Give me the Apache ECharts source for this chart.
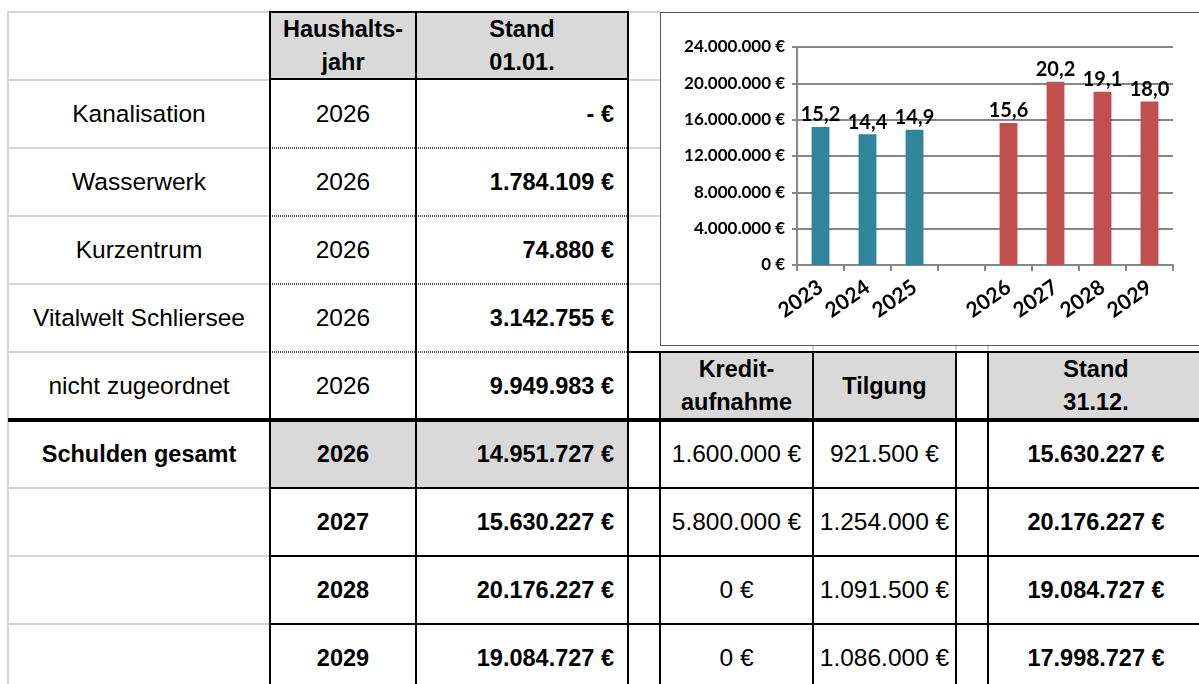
<!DOCTYPE html>
<html>
<head>
<meta charset="utf-8">
<script src="https://cdn.jsdelivr.net/npm/echarts@6/dist/echarts.min.js"></script>
<style>
  body { margin: 0; background: #fff; width: 1199px; height: 684px; overflow: hidden; position: relative;
         font-family: 'Liberation Sans', Arial, sans-serif; color: #000; }
  .cell { position: absolute; display: flex; align-items: center; box-sizing: border-box;
          font-size: 24.5px; white-space: nowrap; }
  .c { justify-content: center; text-align: center; }
  .r { justify-content: flex-end; padding-right: 14px; }
  .b { font-weight: bold; font-size: 23.5px; }
  .shade { background: #d9d9d9; }
  .two { line-height: 33px; }
  .ln { position: absolute; }
  .grey { background: #d4d4d4; }
  .black { background: #000; }
  .dot { background: repeating-linear-gradient(90deg, #555 0 1px, #fff 1px 2px); }
  #chart { position: absolute; left: 660px; top: 12px; width: 560px; height: 334px;
           border: 1px solid #595959; background: #fff; box-sizing: border-box; z-index: 5; }
</style>
</head>
<body>
<div id="chart"></div>
<script>
// Tabelle
const rowLabels = ['Kanalisation', 'Wasserwerk', 'Kurzentrum', 'Vitalwelt Schliersee', 'nicht zugeordnet',
  'Schulden gesamt', '', '', '']
const years = ['2026', '2026', '2026', '2026', '2026', '2026', '2027', '2028', '2029']
const standStart = ['- €', '1.784.109 €', '74.880 €', '3.142.755 €', '9.949.983 €',
  '14.951.727 €', '15.630.227 €', '20.176.227 €', '19.084.727 €']
const kredit = ['1.600.000 €', '5.800.000 €', '0 €', '0 €']
const tilgung = ['921.500 €', '1.254.000 €', '1.091.500 €', '1.086.000 €']
const standEnd = ['15.630.227 €', '20.176.227 €', '19.084.727 €', '17.998.727 €']

// Diagramm
const chartYears = ['2023', '2024', '2025', '', '2026', '2027', '2028', '2029']
const actualDebt = [15200000, 14400000, 14900000, null, null, null, null, null]
const plannedDebt = [null, null, null, null, 15630227, 20176227, 19084727, 17998727]

// Spalten- und Zeilengrenzen (px)
const X = { a: 8, b: 270, c: 416, d: 628, e: 660, f: 813, g: 956, h: 988, i: 1204 }
const rowTop = [80, 148, 216, 284, 352, 420, 488, 556, 624]
const rowH = 68

function cell(x1, x2, y1, y2, text, cls) {
  const d = document.createElement('div')
  d.className = 'cell ' + cls
  d.style.left = x1 + 'px'
  d.style.top = y1 + 'px'
  d.style.width = (x2 - x1) + 'px'
  d.style.height = (y2 - y1) + 'px'
  d.innerHTML = text
  document.body.appendChild(d)
}
function line(x1, y1, w, h, cls) {
  const d = document.createElement('div')
  d.className = 'ln ' + cls
  d.style.left = x1 + 'px'
  d.style.top = y1 + 'px'
  d.style.width = w + 'px'
  d.style.height = h + 'px'
  document.body.appendChild(d)
}

// Kopf
cell(X.b, X.c, 12, 79, 'Haushalts-<br>jahr', 'c b shade two')
cell(X.c, X.d, 12, 79, 'Stand<br>01.01.', 'c b shade two')
cell(X.e, X.f, 352, 420, 'Kredit-<br>aufnahme', 'c b shade two')
cell(X.f, X.g, 352, 420, 'Tilgung', 'c b shade')
cell(X.h, X.i, 352, 420, 'Stand<br>31.12.', 'c b shade two')

rowLabels.forEach((lab, i) => {
  const y = rowTop[i]
  const bold = i >= 5
  cell(X.a, X.b, y, y + rowH, lab, 'c' + (i === 5 ? ' b' : ''))
  cell(X.b, X.c, y, y + rowH, years[i], 'c' + (bold ? ' b' : '') + (i === 5 ? ' shade' : ''))
  cell(X.c, X.d, y, y + rowH, standStart[i], 'r b' + (i === 5 ? ' shade' : ''))
  if (i >= 5) {
    const k = i - 5
    cell(X.e, X.f, y, y + rowH, kredit[k], 'c')
    cell(X.f, X.g, y, y + rowH, tilgung[k], 'c')
    cell(X.h, X.i, y, y + rowH, standEnd[k], 'c b')
  }
})

// Rasterlinien
line(X.a, 11, X.e - X.a, 2, 'grey')
line(X.a - 1, 11, 2, 684, 'grey')
;[80, 148, 216, 284, 352].forEach(y => {
  line(X.a, y - 1, X.b - X.a, 2, 'grey')
  line(X.d, y - 1, X.e - X.d, 2, 'grey')
})
;[488, 556, 624].forEach(y => {
  line(X.a, y - 1, X.b - X.a, 2, 'grey')
  line(X.b, y - 1, 1199 - X.b, 2, 'black')
})
;[148, 216, 284, 352].forEach(y => line(X.b, y - 1, X.d - X.b, 2, 'dot'))
line(X.b - 1, 11, X.d - X.b + 2, 2, 'black')
line(X.b - 1, 78, X.d - X.b + 2, 2, 'black')
line(X.d, 351, 1199 - X.d, 2, 'black')
line(X.a, 418, 1199 - X.a, 4, 'black')
;[X.b, X.c, X.d].forEach(x => line(x - 1, 11, 2, 684, 'black'))
;[X.e, X.f, X.g, X.h].forEach(x => line(x - 1, 351, 2, 340, 'black'))
;[X.f, X.g, X.h].forEach(x => line(x - 1, 346, 2, 5, 'grey'))

const chart = echarts.init(document.getElementById('chart'))
const euro = v => v.toLocaleString('de-DE') + ' €'
const mio = p => (p.value / 1e6).toFixed(1).replace('.', ',')
const labelStyle = {
  show: true, position: 'top', distance: 2, formatter: mio,
  fontFamily: 'Lato', fontWeight: 'bold', fontSize: 20, color: '#000'
}
chart.setOption({
  animation: false,
  textStyle: { fontFamily: 'Lato' },
  grid: { left: 136, top: 34, width: 376, height: 218 },
  xAxis: {
    type: 'category',
    data: chartYears,
    axisLine: { lineStyle: { color: '#868686', width: 2 } },
    axisTick: { show: true, alignWithLabel: false, length: 6, lineStyle: { color: '#868686', width: 2 } },
    axisLabel: { rotate: 35, margin: 20, fontSize: 21, fontWeight: 'bold', color: '#000', interval: 0 }
  },
  yAxis: {
    type: 'value',
    min: 0, max: 24000000, interval: 4000000,
    axisLine: { show: true, lineStyle: { color: '#868686', width: 2 } },
    axisTick: { show: true, length: 5, lineStyle: { color: '#868686', width: 2 } },
    splitLine: { lineStyle: { color: '#868686', width: 2 } },
    axisLabel: { formatter: euro, margin: 12, fontSize: 17, fontWeight: 'bold', color: '#000' }
  },
  series: [
    { type: 'bar', data: actualDebt, barWidth: '38%', barGap: '-100%',
      itemStyle: { color: '#31859C' }, label: labelStyle },
    { type: 'bar', data: plannedDebt, barWidth: '38%',
      itemStyle: { color: '#C0504D' }, label: labelStyle }
  ]
})
</script>
</body>
</html>
